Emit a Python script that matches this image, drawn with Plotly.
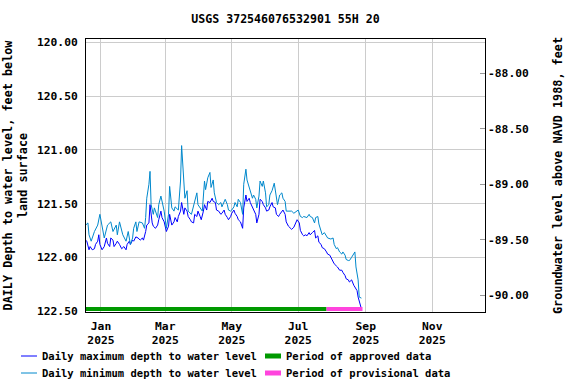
import plotly.graph_objects as go

# daily maximum depth to water level (feet below land surface)
max_dates = [
    "2024-12-18", "2024-12-19", "2024-12-21", "2024-12-22", "2024-12-24", "2024-12-26",
    "2024-12-27", "2024-12-29", "2024-12-30", "2024-12-31", "2025-01-02", "2025-01-04",
    "2025-01-06", "2025-01-07", "2025-01-09", "2025-01-10", "2025-01-12", "2025-01-13",
    "2025-01-15", "2025-01-16", "2025-01-18", "2025-01-20", "2025-01-22", "2025-01-24",
    "2025-01-25", "2025-01-27", "2025-01-28", "2025-01-30", "2025-01-31", "2025-02-02",
    "2025-02-04", "2025-02-06", "2025-02-08", "2025-02-09", "2025-02-11", "2025-02-12",
    "2025-02-14", "2025-02-15", "2025-02-17", "2025-02-18", "2025-02-20", "2025-02-22",
    "2025-02-23", "2025-02-25", "2025-02-26", "2025-02-28", "2025-03-02", "2025-03-04",
    "2025-03-05", "2025-03-06", "2025-03-07", "2025-03-09", "2025-03-10", "2025-03-12",
    "2025-03-13", "2025-03-15", "2025-03-16", "2025-03-18", "2025-03-19", "2025-03-21",
    "2025-03-22", "2025-03-24", "2025-03-25", "2025-03-27", "2025-03-28", "2025-03-30",
    "2025-03-31", "2025-04-02", "2025-04-03", "2025-04-05", "2025-04-06", "2025-04-08",
    "2025-04-09", "2025-04-11", "2025-04-13", "2025-04-14", "2025-04-16", "2025-04-17",
    "2025-04-19", "2025-04-21", "2025-04-22", "2025-04-24", "2025-04-25", "2025-04-27",
    "2025-04-28", "2025-04-30", "2025-05-01", "2025-05-03", "2025-05-04", "2025-05-06",
    "2025-05-07", "2025-05-09", "2025-05-11", "2025-05-12", "2025-05-14", "2025-05-15",
    "2025-05-17", "2025-05-18", "2025-05-20", "2025-05-21", "2025-05-23", "2025-05-24",
    "2025-05-26", "2025-05-27", "2025-05-29", "2025-05-30", "2025-06-01", "2025-06-02",
    "2025-06-04", "2025-06-05", "2025-06-07", "2025-06-08", "2025-06-10", "2025-06-11",
    "2025-06-13", "2025-06-14", "2025-06-16", "2025-06-17", "2025-06-19", "2025-06-20",
    "2025-06-22", "2025-06-25", "2025-06-27", "2025-06-30", "2025-07-02", "2025-07-03",
    "2025-07-05", "2025-07-06", "2025-07-08", "2025-07-09", "2025-07-11", "2025-07-12",
    "2025-07-14", "2025-07-16", "2025-07-17", "2025-07-19", "2025-07-20", "2025-07-22",
    "2025-07-23", "2025-07-25", "2025-07-27", "2025-07-28", "2025-07-30", "2025-07-31",
    "2025-08-02", "2025-08-03", "2025-08-05", "2025-08-06", "2025-08-08", "2025-08-10",
    "2025-08-11", "2025-08-13", "2025-08-14", "2025-08-16", "2025-08-17", "2025-08-19",
    "2025-08-21", "2025-08-22", "2025-08-24", "2025-08-25", "2025-08-27", "2025-08-28",
]
max_depth = [
    121.84, 121.85, 121.93, 121.90, 121.93, 121.92,
    121.88, 121.85, 121.79, 121.88, 121.93, 121.90,
    121.82, 121.87, 121.90, 121.82, 121.84, 121.90,
    121.87, 121.85, 121.88, 121.92, 121.90, 121.93,
    121.88, 121.85, 121.88, 121.84, 121.85, 121.81,
    121.82, 121.84, 121.82, 121.84, 121.76, 121.70,
    121.68, 121.51, 121.68, 121.71, 121.73, 121.70,
    121.65, 121.57, 121.63, 121.67, 121.76, 121.71,
    121.60, 121.65, 121.70, 121.67, 121.63, 121.67,
    121.62, 121.57, 121.49, 121.60, 121.54, 121.57,
    121.62, 121.65, 121.67, 121.68, 121.60, 121.62,
    121.57, 121.62, 121.65, 121.57, 121.51, 121.56,
    121.48, 121.49, 121.45, 121.48, 121.49, 121.56,
    121.57, 121.60, 121.59, 121.56, 121.60, 121.63,
    121.65, 121.62, 121.59, 121.56, 121.59, 121.62,
    121.65, 121.67, 121.73, 121.54, 121.42, 121.48,
    121.45, 121.49, 121.53, 121.56, 121.60, 121.68,
    121.60, 121.46, 121.48, 121.51, 121.54, 121.57,
    121.56, 121.53, 121.49, 121.53, 121.54, 121.60,
    121.62, 121.60, 121.57, 121.56, 121.60, 121.67,
    121.71, 121.74, 121.72, 121.65, 121.68, 121.75,
    121.79, 121.80, 121.79, 121.80, 121.77, 121.79,
    121.77, 121.75, 121.82, 121.80, 121.86, 121.88,
    121.91, 121.92, 121.95, 121.97, 121.98, 122.00,
    122.05, 122.06, 122.08, 122.09, 122.12, 122.12,
    122.14, 122.17, 122.20, 122.21, 122.23, 122.21,
    122.26, 122.28, 122.31, 122.37, 122.43, 122.48,
]

# daily minimum depth to water level (feet below land surface)
min_dates = [
    "2024-12-18", "2024-12-20", "2024-12-21", "2024-12-23", "2024-12-26", "2024-12-29",
    "2024-12-31", "2025-01-02", "2025-01-04", "2025-01-07", "2025-01-10", "2025-01-12",
    "2025-01-15", "2025-01-16", "2025-01-18", "2025-01-21", "2025-01-24", "2025-01-26",
    "2025-01-28", "2025-01-30", "2025-01-31", "2025-02-02", "2025-02-03", "2025-02-05",
    "2025-02-08", "2025-02-10", "2025-02-11", "2025-02-12", "2025-02-14", "2025-02-15",
    "2025-02-16", "2025-02-18", "2025-02-19", "2025-02-22", "2025-02-23", "2025-02-25",
    "2025-02-26", "2025-02-28", "2025-03-02", "2025-03-04", "2025-03-05", "2025-03-07",
    "2025-03-09", "2025-03-10", "2025-03-13", "2025-03-15", "2025-03-16", "2025-03-18",
    "2025-03-19", "2025-03-21", "2025-03-22", "2025-03-25", "2025-03-27", "2025-03-28",
    "2025-03-30", "2025-03-31", "2025-04-02", "2025-04-04", "2025-04-06", "2025-04-07",
    "2025-04-09", "2025-04-11", "2025-04-12", "2025-04-14", "2025-04-15", "2025-04-17",
    "2025-04-19", "2025-04-21", "2025-04-22", "2025-04-24", "2025-04-25", "2025-04-27",
    "2025-04-28", "2025-04-30", "2025-05-01", "2025-05-03", "2025-05-04", "2025-05-06",
    "2025-05-07", "2025-05-09", "2025-05-11", "2025-05-12", "2025-05-14", "2025-05-15",
    "2025-05-17", "2025-05-18", "2025-05-20", "2025-05-21", "2025-05-23", "2025-05-24",
    "2025-05-26", "2025-05-27", "2025-05-29", "2025-05-30", "2025-06-01", "2025-06-02",
    "2025-06-04", "2025-06-05", "2025-06-07", "2025-06-09", "2025-06-10", "2025-06-12",
    "2025-06-14", "2025-06-16", "2025-06-17", "2025-06-19", "2025-06-20", "2025-06-22",
    "2025-06-25", "2025-06-27", "2025-07-01", "2025-07-03", "2025-07-05", "2025-07-06",
    "2025-07-09", "2025-07-11", "2025-07-12", "2025-07-14", "2025-07-16", "2025-07-17",
    "2025-07-19", "2025-07-20", "2025-07-22", "2025-07-23", "2025-07-25", "2025-07-27",
    "2025-07-28", "2025-07-31", "2025-08-02", "2025-08-03", "2025-08-05", "2025-08-06",
    "2025-08-08", "2025-08-10", "2025-08-11", "2025-08-13", "2025-08-14", "2025-08-16",
    "2025-08-17", "2025-08-19", "2025-08-21", "2025-08-22", "2025-08-23", "2025-08-25",
    "2025-08-26", "2025-08-28",
]
min_depth = [
    121.70, 121.68, 121.79, 121.85, 121.76, 121.70,
    121.60, 121.73, 121.82, 121.70, 121.67, 121.76,
    121.70, 121.79, 121.67, 121.79, 121.85, 121.76,
    121.88, 121.82, 121.73, 121.67, 121.76, 121.67,
    121.68, 121.73, 121.63, 121.45, 121.32, 121.20,
    121.51, 121.60, 121.54, 121.63, 121.51, 121.43,
    121.48, 121.57, 121.73, 121.60, 121.34, 121.54,
    121.57, 121.53, 121.56, 121.29, 120.96, 121.23,
    121.45, 121.38, 121.57, 121.60, 121.53, 121.49,
    121.40, 121.51, 121.54, 121.57, 121.29, 121.37,
    121.26, 121.21, 121.35, 121.28, 121.40, 121.49,
    121.51, 121.49, 121.53, 121.48, 121.46, 121.51,
    121.56, 121.57, 121.56, 121.53, 121.49, 121.53,
    121.46, 121.49, 121.60, 121.32, 121.18, 121.28,
    121.34, 121.38, 121.45, 121.42, 121.46, 121.54,
    121.43, 121.29, 121.34, 121.29, 121.40, 121.53,
    121.51, 121.42, 121.38, 121.31, 121.37, 121.51,
    121.42, 121.40, 121.45, 121.48, 121.57, 121.57,
    121.57, 121.59, 121.56, 121.62, 121.63, 121.62,
    121.63, 121.60, 121.62, 121.63, 121.68, 121.63,
    121.62, 121.69, 121.75, 121.79, 121.77, 121.80,
    121.82, 121.83, 121.82, 121.88, 121.92, 121.91,
    121.95, 121.97, 121.95, 121.98, 122.02, 122.03,
    122.03, 122.00, 121.97, 121.95, 122.09, 122.21,
    122.37, 122.38,
]

# data approval periods
approved_period = ["2024-12-17", "2025-07-27"]
provisional_period = ["2025-07-27", "2025-08-29"]

tick_dates = ["2025-01-01", "2025-03-01", "2025-05-01", "2025-07-01", "2025-09-01", "2025-11-01"]
tick_labels = ["Jan<br>2025", "Mar<br>2025", "May<br>2025", "Jul<br>2025", "Sep<br>2025", "Nov<br>2025"]

left_ticks = [120.0, 120.5, 121.0, 121.5, 122.0, 122.5]
left_labels = ["120.00", "120.50", "121.00", "121.50", "122.00", "122.50"]
right_ticks = [-88.0, -88.5, -89.0, -89.5, -90.0]
right_labels = ["-88.00", "-88.50", "-89.00", "-89.50", "-90.00"]

BAR_LEVEL = 122.48
FONT = "DejaVu Sans Mono"
W, H = 576, 384
PLOT_L, PLOT_R, PLOT_T, PLOT_B = 86, 485, 39, 312

MAX_COLOR = "#0000ff"
MIN_COLOR = "#0088cc"
APPROVED_COLOR = "#009900"
PROVISIONAL_COLOR = "#ff44dd"


def px_x(x):
    return (x - PLOT_L) / (PLOT_R - PLOT_L)


def px_y(y):
    return (PLOT_B - y) / (PLOT_B - PLOT_T)


fig = go.Figure()

fig.add_trace(go.Scatter(
    x=max_dates, y=max_depth, mode="lines",
    line=dict(color=MAX_COLOR, width=1),
    name="Daily maximum depth to water level",
))
fig.add_trace(go.Scatter(
    x=min_dates, y=min_depth, mode="lines",
    line=dict(color=MIN_COLOR, width=1),
    name="Daily minimum depth to water level",
))
fig.add_trace(go.Scatter(
    x=approved_period, y=[BAR_LEVEL] * len(approved_period), mode="lines",
    line=dict(color=APPROVED_COLOR, width=4),
    name="Period of approved data",
))
fig.add_trace(go.Scatter(
    x=provisional_period, y=[BAR_LEVEL] * len(provisional_period), mode="lines",
    line=dict(color=PROVISIONAL_COLOR, width=4),
    name="Period of provisional data",
))
# empty trace so the right-hand axis gets drawn
fig.add_trace(go.Scatter(x=[None], y=[None], yaxis="y2", showlegend=False, hoverinfo="skip"))

# legend drawn by hand: two columns, two rows below the plot
legend_items = [
    ("Daily maximum depth to water level", MAX_COLOR, 1, 21, 37, 356),
    ("Daily minimum depth to water level", MIN_COLOR, 1, 21, 37, 373),
    ("Period of approved data", APPROVED_COLOR, 5, 265, 281, 356),
    ("Period of provisional data", PROVISIONAL_COLOR, 5, 265, 281, 373),
]
for text, color, lw, x0, x1, y in legend_items:
    fig.add_shape(type="line", xref="paper", yref="paper",
                  x0=px_x(x0), x1=px_x(x1), y0=px_y(y), y1=px_y(y),
                  line=dict(color=color, width=lw))
    fig.add_annotation(text=text, xref="paper", yref="paper",
                       x=px_x(x1 + 3), y=px_y(y), xanchor="left", yanchor="middle",
                       showarrow=False, font=dict(family=FONT, size=10.5, weight="bold"))

fig.update_layout(
    width=W, height=H,
    margin=dict(l=PLOT_L, r=W - PLOT_R, t=PLOT_T, b=H - PLOT_B, autoexpand=False),
    paper_bgcolor="white", plot_bgcolor="white",
    font=dict(family=FONT, size=11, color="black", weight="bold"),
    showlegend=False,
    title=dict(
        text="USGS 372546076532901 55H 20",
        x=0.5, xref="paper", xanchor="center",
        y=1 - 19 / H, yref="container", yanchor="middle",
        font=dict(family=FONT, size=11.6, weight="bold"),
    ),
    xaxis=dict(
        type="date",
        range=["2024-12-18 06:00", "2025-12-19 10:00"],
        tickvals=tick_dates, ticktext=tick_labels,
        showgrid=True, gridcolor="#cccccc", gridwidth=1,
        showline=True, linecolor="black", linewidth=1, mirror=True,
        ticks="", tickfont=dict(size=11.3), ticklabelstandoff=3,
        zeroline=False,
    ),
    yaxis=dict(
        range=[122.509, 119.968],
        tickvals=left_ticks, ticktext=left_labels,
        showgrid=True, gridcolor="#cccccc", gridwidth=1,
        showline=True, linecolor="black", linewidth=1, mirror=True,
        ticks="", tickfont=dict(size=11.3), ticklabelstandoff=5,
        zeroline=False,
        title=dict(text="DAILY Depth to water level, feet below<br>land surface",
                   font=dict(size=11.8), standoff=6),
    ),
    yaxis2=dict(
        overlaying="y", side="right",
        range=[-90.151, -87.693],
        tickvals=right_ticks, ticktext=right_labels,
        showgrid=False, zeroline=False,
        ticks="inside", ticklen=5, tickcolor="#999999",
        tickfont=dict(size=11.3), ticklabelstandoff=2,
        title=dict(text="Groundwater level above NAVD 1988, feet",
                   font=dict(size=11.8), standoff=25),
    ),
)

fig.write_html("out.html", config={"displayModeBar": False},
               post_script="document.body.style.margin='0';")
